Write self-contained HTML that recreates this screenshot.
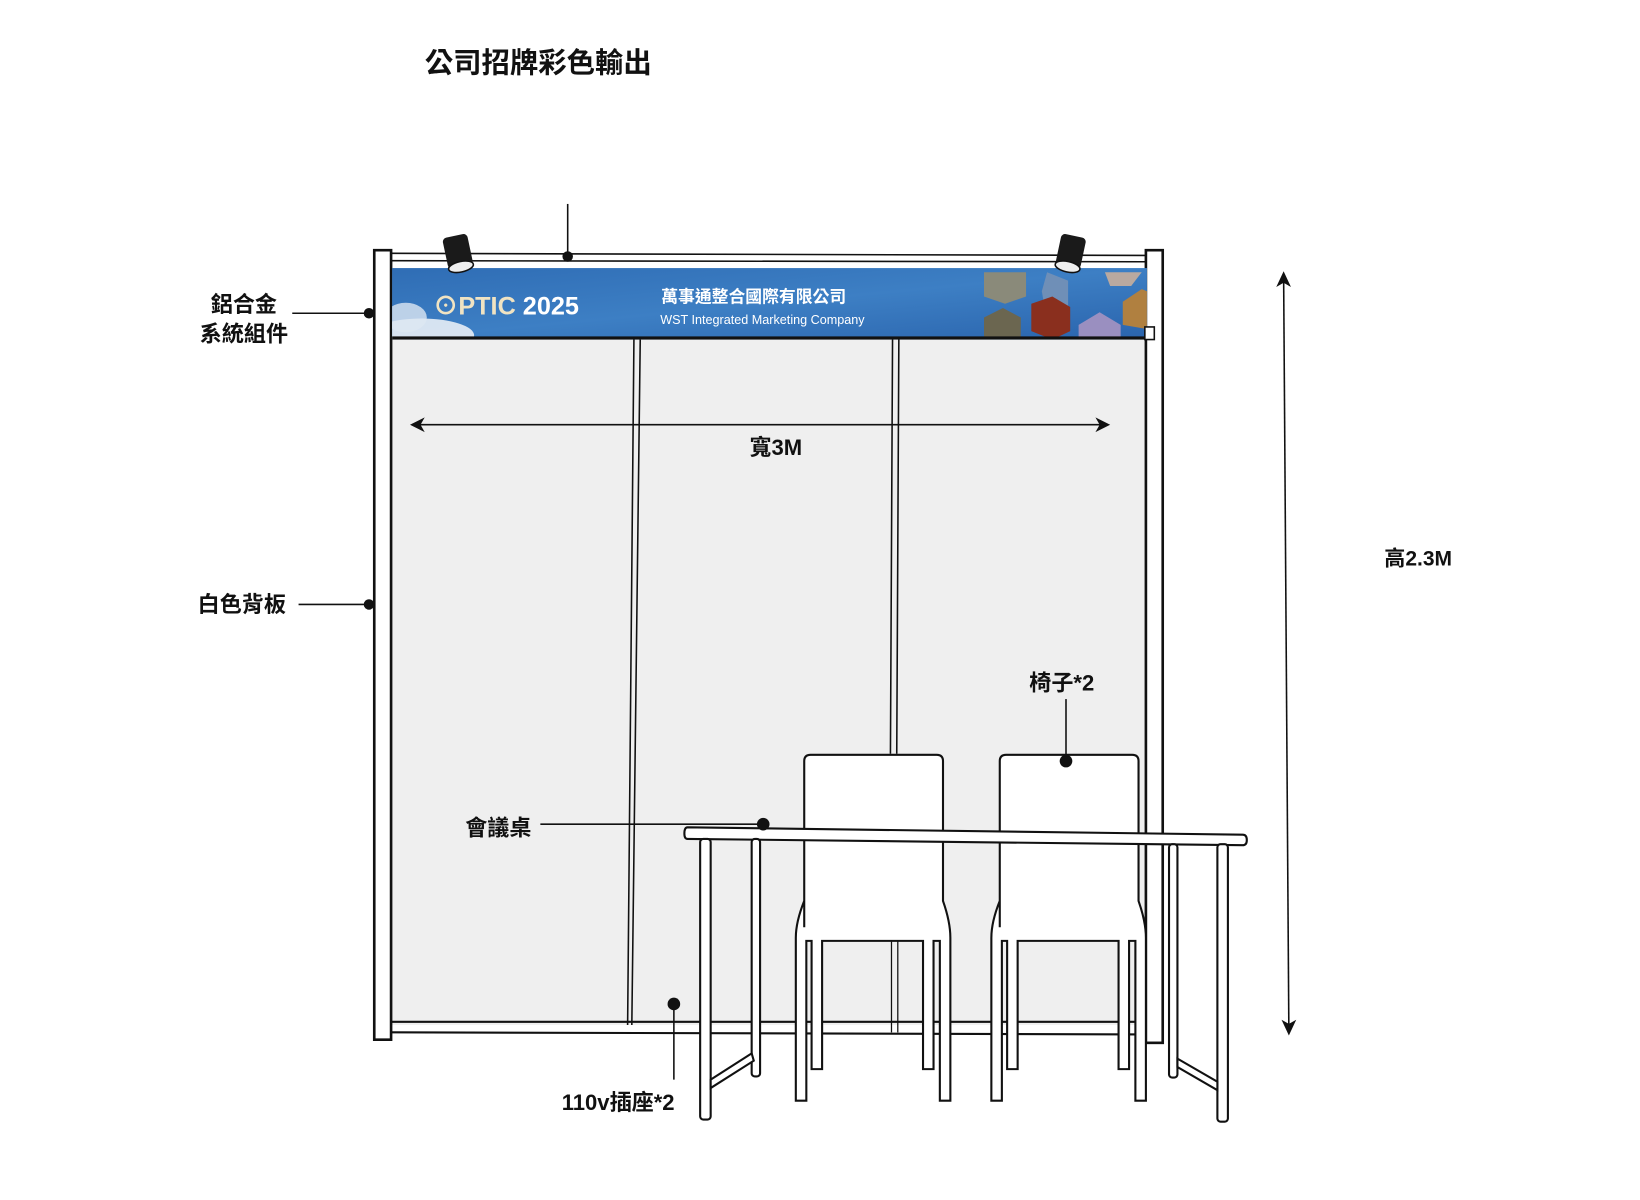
<!DOCTYPE html>
<html><head><meta charset="utf-8"><style>
html,body{margin:0;padding:0;background:#fff;width:1640px;height:1200px;overflow:hidden}
svg{display:block}
text{font-family:"Liberation Sans","Noto Sans CJK TC",sans-serif;font-weight:bold;fill:#111}
</style></head><body>
<svg width="1640" height="1200" viewBox="4 3 1560 1141.5" preserveAspectRatio="none" xmlns="http://www.w3.org/2000/svg">
<defs>
<linearGradient id="bg" x1="0" y1="0" x2="1" y2="1">
<stop offset="0" stop-color="#2f6db5"/><stop offset="0.5" stop-color="#3d7fc4"/><stop offset="1" stop-color="#2a64ad"/>
</linearGradient>
<clipPath id="bc"><rect x="377" y="258" width="718" height="68"/></clipPath>
</defs>
<text x="516" y="72" font-size="27" text-anchor="middle">公司招牌彩色輸出</text>

<rect x="376" y="326" width="718" height="652" fill="#efefef"/>
<path d="M613,326 L605,978 M607,326 L601,978" stroke="#111" stroke-width="1.5" fill="none"/>
<path d="M853,326 L851,720 M859,326 L857,720" stroke="#111" stroke-width="1.5"/>
<path d="M376,975 L1094,975 M376,985 L1094,987" stroke="#111" stroke-width="2"/>
<path d="M376,244 L1095,246 M376,251 L1095,252" stroke="#111" stroke-width="1.5"/>
<rect x="360" y="241" width="16" height="751" fill="#fff" stroke="#111" stroke-width="2.5"/>
<rect x="1094" y="241" width="16" height="754" fill="#fff" stroke="#111" stroke-width="2.5"/>
<rect x="377" y="258" width="718" height="68" fill="url(#bg)"/>
<g clip-path="url(#bc)">
<ellipse cx="405" cy="322" rx="50" ry="16" fill="#e8eef6" opacity="0.9"/>
<ellipse cx="390" cy="305" rx="20" ry="14" fill="#dde7f3" opacity="0.8"/>
<polygon points="940,262 980,262 980,285 960,292 940,285" fill="#8a8a7a"/>
<polygon points="1000,262 1020,270 1020,305 1010,318 1000,310 995,280" fill="#6f8fb7"/>
<polygon points="985,292 1005,285 1022,295 1022,318 1005,326 985,318" fill="#8a2f1e"/>
<polygon points="940,305 958,296 975,305 975,326 940,326" fill="#6b6650"/>
<polygon points="1030,312 1050,300 1070,312 1070,326 1030,326" fill="#9a8fc0"/>
<polygon points="1072,290 1090,278 1095,280 1095,316 1072,312" fill="#b08040"/>
<polygon points="1055,262 1090,262 1080,275 1060,275" fill="#b9a9a0"/>
</g>
<rect x="377" y="323" width="718" height="3" fill="#111"/>
<text x="416" y="302" font-size="24" style="fill:#f0e3c2">⊙PTIC <tspan style="fill:#fff">2025</tspan></text>
<text x="633" y="291" font-size="16" style="fill:#fff">萬事通整合國際有限公司</text>
<text x="632" y="311" font-size="12" style="fill:#fff;font-weight:normal">WST Integrated Marketing Company</text>
<rect x="1093" y="314" width="9" height="12" fill="#fff" stroke="#111" stroke-width="1.5"/>
<g transform="translate(440,245) rotate(-12)"><rect x="-12" y="-18" width="24" height="30" rx="4" fill="#1a1a1a"/><ellipse cx="0" cy="12" rx="12" ry="5" fill="#eee" stroke="#111" stroke-width="1.5"/></g>
<g transform="translate(1022,245) rotate(12)"><rect x="-12" y="-18" width="24" height="30" rx="4" fill="#1a1a1a"/><ellipse cx="0" cy="12" rx="12" ry="5" fill="#eee" stroke="#111" stroke-width="1.5"/></g>
<line x1="544" y1="197" x2="544" y2="247" stroke="#111" stroke-width="1.5"/><circle cx="544" cy="247" r="5" fill="#111"/>
<line x1="396" y1="407" x2="1056" y2="407" stroke="#111" stroke-width="1.5"/>
<path d="M394,407 L408,400 L404,407 L408,414 z" fill="#111"/>
<path d="M1060,407 L1046,400 L1050,407 L1046,414 z" fill="#111"/>
<text x="742" y="436" font-size="21" text-anchor="middle">寬3M</text>
<line x1="1225" y1="264" x2="1230" y2="985" stroke="#111" stroke-width="1.5"/>
<path d="M1225,261 L1218,276 L1225,272 L1232,276 z" fill="#111"/>
<path d="M1230,988 L1223,973 L1230,977 L1237,973 z" fill="#111"/>
<text x="1353" y="541" font-size="20" text-anchor="middle">高2.3M</text>
<text x="236" y="300" font-size="21" text-anchor="middle">鋁合金</text>
<text x="236" y="328" font-size="21" text-anchor="middle">系統組件</text>
<line x1="282" y1="301" x2="355" y2="301" stroke="#111" stroke-width="1.5"/><circle cx="355" cy="301" r="5" fill="#111"/>
<text x="234" y="585" font-size="21" text-anchor="middle">白色背板</text>
<line x1="288" y1="578" x2="355" y2="578" stroke="#111" stroke-width="1.5"/><circle cx="355" cy="578" r="5" fill="#111"/>
<g fill="#fff" stroke="#111" stroke-width="2">
<path d="M769,885 L769,727 Q769,721 775,721 L895,721 Q901,721 901,727 L901,860 Q908,880 908,895 L908,1050 L898,1050 L898,898 L892,898 L892,1020 L882,1020 L882,898 L786,898 L786,1020 L776,1020 L776,898 L771,898 L771,1050 L761,1050 L761,895 Q761,880 769,860 Z"/>
<path d="M955,885 L955,727 Q955,721 961,721 L1081,721 Q1087,721 1087,727 L1087,860 Q1094,880 1094,895 L1094,1050 L1084,1050 L1084,898 L1078,898 L1078,1020 L1068,1020 L1068,898 L972,898 L972,1020 L962,1020 L962,898 L957,898 L957,1050 L947,1050 L947,895 Q947,880 955,860 Z"/>
</g>
<path d="M852,898 L852,985 M858,898 L858,985" stroke="#111" stroke-width="1.2"/>
<g fill="#fff" stroke="#111" stroke-width="2">
<path d="M658,790 L1186,797 Q1190,797 1190,802 Q1190,807 1186,807 L658,801 Q655,801 655,796 Q655,790 658,790 Z"/>
<rect x="670" y="801" width="10" height="267" rx="3"/>
<rect x="719" y="801" width="8" height="226" rx="3"/>
<path d="M680,1030 L719,1005 L721,1012 L680,1038 Z"/>
<rect x="1116" y="806" width="8" height="222" rx="3"/>
<rect x="1162" y="806" width="10" height="264" rx="3"/>
<path d="M1124,1010 L1162,1032 L1162,1040 L1124,1018 Z"/>
</g>
<text x="1014" y="660" font-size="21" text-anchor="middle">椅子*2</text>
<line x1="1018" y1="668" x2="1018" y2="727" stroke="#111" stroke-width="1.5"/><circle cx="1018" cy="727" r="6" fill="#111"/>
<text x="478" y="798" font-size="21" text-anchor="middle">會議桌</text>
<line x1="518" y1="787" x2="730" y2="787" stroke="#111" stroke-width="1.5"/><circle cx="730" cy="787" r="6" fill="#111"/>
<text x="592" y="1059" font-size="21" text-anchor="middle">110v插座*2</text>
<line x1="645" y1="958" x2="645" y2="1030" stroke="#111" stroke-width="1.5"/><circle cx="645" cy="958" r="6" fill="#111"/>
</svg>
</body></html>
